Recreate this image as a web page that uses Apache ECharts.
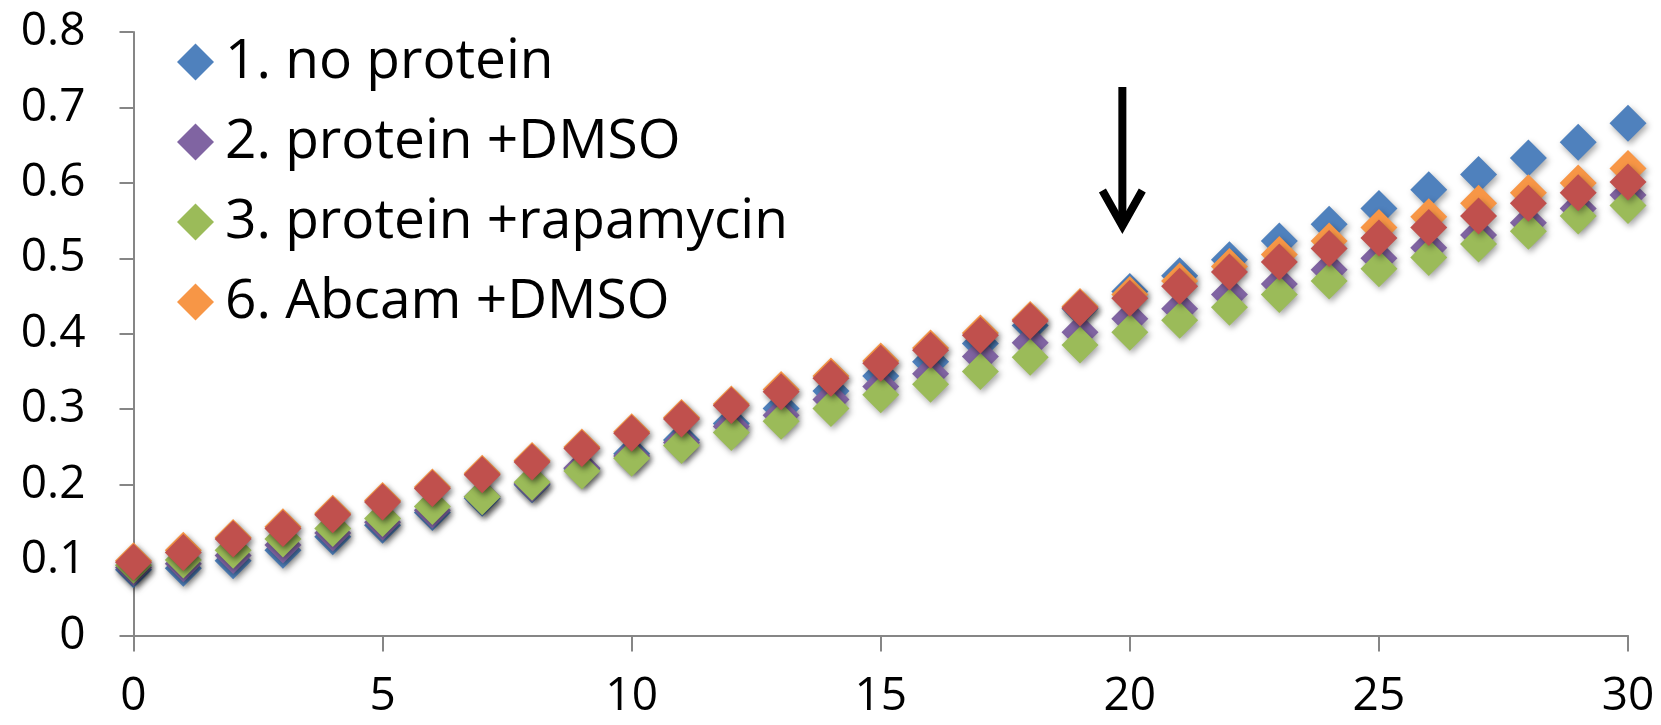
<!DOCTYPE html>
<html>
<head>
<meta charset="utf-8">
<script src="https://cdn.jsdelivr.net/npm/echarts@6/dist/echarts.min.js"></script>
<style>
  html, body { margin: 0; padding: 0; background: #fff; }
  #chart { width: 1661px; height: 725px; }
</style>
</head>
<body>
<div id="chart"></div>
<script>
const minutes = [0, 1, 2, 3, 4, 5, 6, 7, 8, 9, 10, 11, 12, 13, 14, 15, 16, 17, 18, 19, 20, 21, 22, 23, 24, 25, 26, 27, 28, 29, 30];

const noProtein = [0.087, 0.089, 0.099, 0.113, 0.131, 0.146, 0.163, 0.182, 0.200, 0.221, 0.241, 0.259, 0.281, 0.301, 0.324, 0.344,
  0.363, 0.387, 0.411, 0.433, 0.456, 0.477, 0.498, 0.523, 0.545, 0.566, 0.591, 0.611, 0.633, 0.654, 0.679];
const proteinDmso = [0.090, 0.095, 0.106, 0.120, 0.136, 0.150, 0.166, 0.184, 0.201, 0.222, 0.238, 0.256, 0.277, 0.292, 0.313, 0.330,
  0.347, 0.370, 0.388, 0.402, 0.420, 0.433, 0.452, 0.466, 0.485, 0.500, 0.514, 0.531, 0.547, 0.566, 0.584];
const proteinRapa = [0.093, 0.100, 0.113, 0.128, 0.142, 0.155, 0.171, 0.184, 0.203, 0.218, 0.235, 0.252, 0.269, 0.284, 0.301, 0.319,
  0.333, 0.350, 0.369, 0.385, 0.402, 0.418, 0.435, 0.452, 0.470, 0.486, 0.501, 0.519, 0.536, 0.556, 0.570];
const abcamDmso = [0.099, 0.113, 0.130, 0.144, 0.162, 0.179, 0.197, 0.215, 0.232, 0.250, 0.270, 0.289, 0.307, 0.326, 0.344, 0.364,
  0.381, 0.401, 0.419, 0.436, 0.452, 0.470, 0.489, 0.505, 0.523, 0.541, 0.555, 0.573, 0.587, 0.600, 0.619];
// fifth series has no legend entry in the original
const abcamRapa = [0.097, 0.110, 0.128, 0.142, 0.160, 0.177, 0.195, 0.213, 0.230, 0.248, 0.268, 0.287, 0.305, 0.323, 0.341, 0.361,
  0.378, 0.398, 0.417, 0.434, 0.447, 0.463, 0.482, 0.495, 0.513, 0.527, 0.541, 0.556, 0.573, 0.587, 0.601];

const seriesNames = ['1. no protein', '2. protein +DMSO', '3. protein +rapamycin', '6. Abcam +DMSO', '7. Abcam +rapamycin'];
const seriesValues = [noProtein, proteinDmso, proteinRapa, abcamDmso, abcamRapa];
const seriesColors = ['#4F81BD', '#8064A2', '#9BBB59', '#F79646', '#C0504D'];

// arrow annotation (data coords)
const arrowShaft = [[19.85, 0.727], [19.85, 0.546]];
const arrowHead = [[19.45, 0.590], [19.85, 0.543], [20.25, 0.590]];

const FONT = 'Open Sans';
const AXIS_COLOR = '#868686';

const chart = echarts.init(document.getElementById('chart'));

const series = seriesNames.map((name, i) => ({
  name,
  type: 'scatter',
  symbol: 'diamond',
  symbolSize: 37,
  itemStyle: {
    color: seriesColors[i],
    opacity: 1,
    shadowBlur: 6,
    shadowOffsetX: 2,
    shadowOffsetY: 3,
    shadowColor: 'rgba(0, 0, 0, 0.35)',
  },
  emphasis: { disabled: true },
  data: minutes.map((m, j) => [m, seriesValues[i][j]]),
}));

[arrowShaft, arrowHead].forEach((pts) => {
  series.push({
    type: 'line',
    silent: true,
    symbol: 'none',
    z: 5,
    lineStyle: { color: '#000', width: 8, cap: 'butt', join: 'miter' },
    data: pts,
  });
});

const option = {
  animation: false,
  grid: { left: 133.5, right: 33, top: 32, bottom: 89.5 },
  legend: {
    show: true,
    orient: 'vertical',
    left: 172,
    top: 27,
    icon: 'diamond',
    itemWidth: 37,
    itemHeight: 37,
    itemGap: 20,
    data: seriesNames.slice(0, 4),
    textStyle: {
      fontFamily: FONT,
      fontSize: 55,
      color: '#000',
      lineHeight: 60,
      padding: [0, 0, 0, 6],
    },
  },
  xAxis: {
    type: 'value',
    min: 0,
    max: 30,
    interval: 5,
    axisLine: { onZero: false, lineStyle: { color: AXIS_COLOR, width: 2 } },
    axisTick: { length: 16, lineStyle: { color: AXIS_COLOR, width: 2 } },
    axisLabel: { fontFamily: FONT, fontSize: 46, color: '#000', margin: 38 },
    splitLine: { show: false },
  },
  yAxis: {
    type: 'value',
    min: 0,
    max: 0.8,
    interval: 0.1,
    axisLine: { show: true, onZero: false, lineStyle: { color: AXIS_COLOR, width: 2 } },
    axisTick: { show: true, length: 14, lineStyle: { color: AXIS_COLOR, width: 2 } },
    axisLabel: { fontFamily: FONT, fontSize: 46, color: '#000', margin: 48 },
    splitLine: { show: false },
  },
  series,
};

chart.setOption(option);
</script>
</body>
</html>
